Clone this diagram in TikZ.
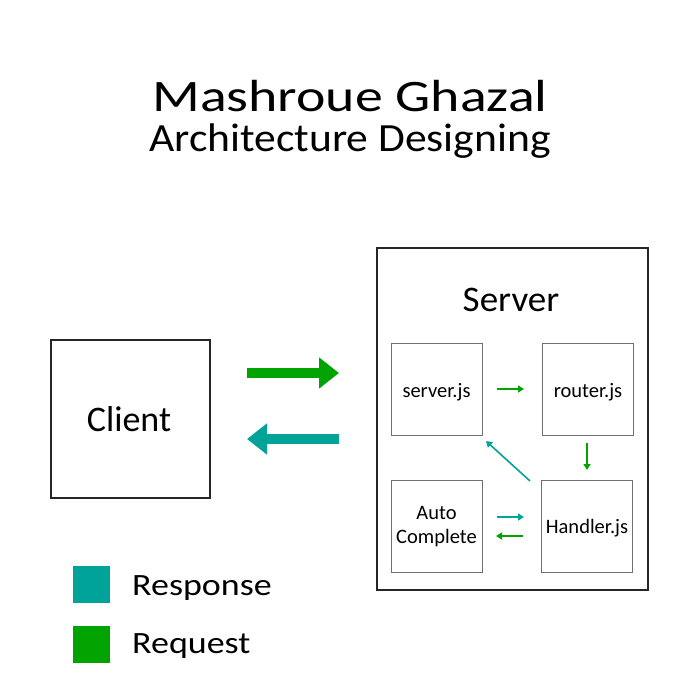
\documentclass[tikz,border=0pt]{standalone}
\usepackage{fontspec}
\setmainfont{Carlito}
\usetikzlibrary{arrows.meta}
\definecolor{reqgreen}{RGB}{0,163,0}
\definecolor{respteal}{RGB}{0,163,152}
\definecolor{boxgray}{RGB}{112,112,112}
\tikzset{
  outerbox/.style={draw=black!85, line width=1.8pt, inner sep=0pt, outer sep=0pt},
  innerbox/.style={draw=boxgray, line width=0.9pt, minimum width=91pt, minimum height=92pt, inner sep=0pt, outer sep=0pt},
  boxtext/.style={anchor=base, inner sep=0pt, font=\fontsize{20.5}{24}\selectfont},
  bigarrow/.style={line width=10pt, -{Triangle[length=20pt,width=30pt]}},
  smallarrow/.style={line width=1.6pt, -{Triangle[length=6pt,width=7pt]}},
  legendsq/.style={minimum width=37pt, minimum height=37pt, inner sep=0pt},
  legendtext/.style={anchor=base west, inner sep=0pt, font=\fontsize{31}{34}\selectfont\addfontfeatures{FakeStretch=1.16}}
}
\begin{document}
\begin{tikzpicture}[x=1pt,y=-1pt]
\useasboundingbox (0,0) rectangle (700,700);
\fill[white] (0,0) rectangle (700,700);
\node[anchor=base, inner sep=0pt, font=\fontsize{45}{50}\selectfont\addfontfeatures{FakeStretch=1.24}] (title) at (350,111.5) {Mashroue Ghazal};
\node[anchor=base, inner sep=0pt, font=\fontsize{40}{44}\selectfont\addfontfeatures{FakeStretch=1.09}] (subtitle) at (350,151.5) {Architecture Designing};
% client
\node[outerbox, minimum width=159pt, minimum height=158pt] (client) at (130.5,419) {};
\node[anchor=base, inner sep=0pt, font=\fontsize{36}{38}\selectfont] (clienttext) at (129,431.5) {Client};
% server
\node[outerbox, minimum width=271pt, minimum height=342pt] (server) at (512.5,419) {};
\node[anchor=base, inner sep=0pt, font=\fontsize{36}{38}\selectfont\addfontfeatures{FakeStretch=1.03}] (servertitle) at (511,311.5) {Server};
\node[innerbox] (serverjs) at (436.5,389) {};
\node[innerbox] (router) at (588,389) {};
\node[innerbox] (auto) at (436.5,526) {};
\node[innerbox] (handler) at (587,526) {};
\node[boxtext] (serverjst) at (436.5,397.3) {server.js};
\node[boxtext] (routert) at (588,397.3) {router.js};
\node[boxtext] (autot1) at (436.5,519) {Auto};
\node[boxtext] (autot2) at (436.5,543) {Complete};
\node[boxtext] (handlert) at (587,533) {Handler.js};
% big arrows
\coordinate (rqs) at (247,373);
\coordinate (rqe) at (339,373);
\coordinate (rss) at (339,439);
\coordinate (rse) at (247,439);
\draw[bigarrow, reqgreen] (rqs) -- (rqe);
\draw[bigarrow, respteal] (rss) -- (rse);
% small arrows
\coordinate (a1s) at (497,389);
\coordinate (a1e) at (524,389);
\coordinate (a2s) at (587,443);
\coordinate (a2e) at (587,470);
\coordinate (a3s) at (530,481);
\coordinate (a3e) at (486,441);
\coordinate (a4s) at (497,517);
\coordinate (a4e) at (524,517);
\coordinate (a5s) at (523,536);
\coordinate (a5e) at (496,536);
\draw[smallarrow, reqgreen] (a1s) -- (a1e);
\draw[smallarrow, reqgreen] (a2s) -- (a2e);
\draw[smallarrow, respteal] (a3s) -- (a3e);
\draw[smallarrow, respteal] (a4s) -- (a4e);
\draw[smallarrow, reqgreen] (a5s) -- (a5e);
% legend
\node[legendsq, fill=respteal] (lresp) at (91.5,584.5) {};
\node[legendsq, fill=reqgreen] (lreq) at (91.5,644.5) {};
\node[legendtext] (tresp) at (132,595) {Response};
\node[legendtext] (treq) at (132,653) {Request};
\end{tikzpicture}
\end{document}
